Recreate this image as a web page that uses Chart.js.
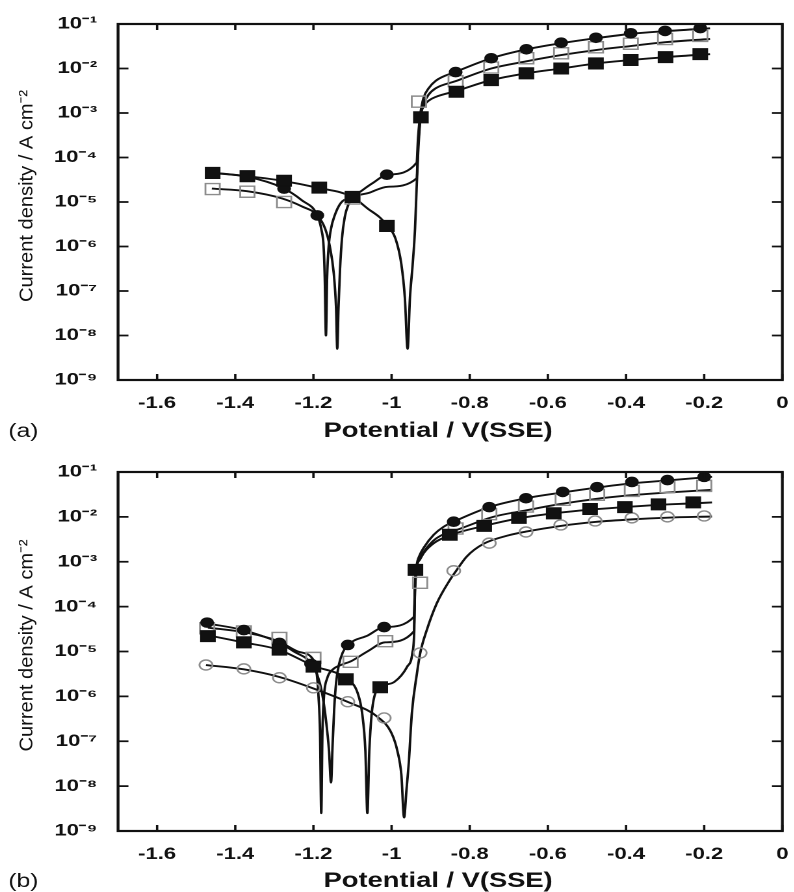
<!DOCTYPE html>
<html>
<head>
<meta charset="utf-8">
<script src="https://cdn.jsdelivr.net/npm/chart.js@4.4.0/dist/chart.umd.min.js"></script>
<style>
  body { margin: 0; background: #fff; width: 794px; height: 892px; overflow: hidden; position: relative; }
  /* the source figure is stretched sideways, so each panel is drawn narrow and widened */
  .panel { position: absolute; left: 0; width: 611px; height: 450px; transform: scaleX(1.3); transform-origin: 0 0; }
</style>
</head>
<body>
<div class="panel" style="top:0"><canvas id="chartA"></canvas></div>
<div class="panel" style="top:442px"><canvas id="chartB"></canvas></div>
<script>
// axis ticks
const xTickVals = [-1.6, -1.4, -1.2, -1.0, -0.8, -0.6, -0.4, -0.2, 0];
const xTickLabels = ['-1.6', '-1.4', '-1.2', '-1', '-0.8', '-0.6', '-0.4', '-0.2', '0'];
const yTickVals = [1e-9, 1e-8, 1e-7, 1e-6, 1e-5, 1e-4, 1e-3, 1e-2, 1e-1];
const yTickLabels = ['10⁻⁹', '10⁻⁸', '10⁻⁷', '10⁻⁶', '10⁻⁵', '10⁻⁴', '10⁻³', '10⁻²', '10⁻¹'];

// panel (a): fitted curves [V, A/cm2]
const aFillCircLine = [[-1.46, 4.5e-5], [-1.37, 3.7e-5], [-1.28, 2.1e-5], [-1.23, 1.1e-5], [-1.19, 5e-6], [-1.18, 2.5e-6],
  [-1.174, 1e-6], [-1.171, 2e-7], [-1.168, 1e-8], [-1.165, 2e-7], [-1.161, 1e-6], [-1.155, 2.5e-6], [-1.147, 4.6e-6],
  [-1.13, 9.5e-6], [-1.10, 1.3e-5], [-1.05, 2.6e-5], [-1.01, 4.1e-5], [-0.936, 7.6e-5], [-0.932, 3e-4], [-0.926, 1e-3],
  [-0.918, 2.2e-3], [-0.905, 3.6e-3], [-0.887, 5.3e-3], [-0.836, 8.4e-3], [-0.745, 1.7e-2], [-0.655, 2.7e-2],
  [-0.566, 3.7e-2], [-0.477, 4.8e-2], [-0.388, 6e-2], [-0.30, 6.9e-2], [-0.185, 8e-2]];
const aOpenSqLine = [[-1.46, 2e-5], [-1.37, 1.75e-5], [-1.28, 1.2e-5], [-1.23, 8e-6], [-1.19, 5e-6], [-1.17, 2.5e-6],
  [-1.158, 1e-6], [-1.148, 2.5e-7], [-1.142, 4e-8], [-1.139, 5e-9], [-1.136, 4e-8], [-1.132, 3e-7], [-1.127, 1.5e-6],
  [-1.12, 4.5e-6], [-1.11, 9e-6], [-1.10, 1.2e-5], [-1.058, 1.6e-5], [-1.01, 2.2e-5], [-0.936, 3.4e-5], [-0.932, 2e-4],
  [-0.926, 8e-4], [-0.918, 1.6e-3], [-0.905, 2.6e-3], [-0.887, 3.6e-3], [-0.836, 5.2e-3], [-0.745, 1e-2],
  [-0.655, 1.45e-2], [-0.566, 2e-2], [-0.477, 2.6e-2], [-0.388, 3.2e-2], [-0.30, 3.9e-2], [-0.185, 4.6e-2]];
const aFillSqLine = [[-1.46, 4.6e-5], [-1.37, 3.8e-5], [-1.28, 3e-5], [-1.19, 2.1e-5], [-1.10, 1.3e-5], [-1.06, 7e-6],
  [-1.03, 4.5e-6], [-1.01, 2.9e-6], [-0.99, 1.5e-6], [-0.975, 4e-7], [-0.966, 7e-8], [-0.959, 5e-9], [-0.953, 7e-8],
  [-0.946, 4e-7], [-0.94, 2.5e-6], [-0.936, 2e-5], [-0.932, 1.3e-4], [-0.926, 8e-4], [-0.918, 1.4e-3], [-0.905, 1.9e-3],
  [-0.887, 2.3e-3], [-0.836, 3.1e-3], [-0.745, 5.5e-3], [-0.655, 7.8e-3], [-0.566, 1e-2], [-0.477, 1.3e-2],
  [-0.388, 1.55e-2], [-0.30, 1.8e-2], [-0.185, 2.1e-2]];

// panel (a): measured points
const aFillCircPts = [[-1.458, 4.5e-5], [-1.369, 3.7e-5], [-1.275, 2e-5], [-1.19, 5e-6], [-1.10, 1.3e-5], [-1.012, 4.1e-5],
  [-0.836, 8.3e-3], [-0.745, 1.7e-2], [-0.655, 2.7e-2], [-0.566, 3.8e-2], [-0.477, 4.9e-2], [-0.388, 6.2e-2],
  [-0.30, 7e-2], [-0.21, 8.1e-2]];
const aOpenSqPts = [[-1.458, 1.95e-5], [-1.369, 1.7e-5], [-1.275, 1e-5], [-1.10, 1.2e-5], [-0.93, 1.8e-3], [-0.836, 5.2e-3],
  [-0.745, 1.05e-2], [-0.655, 1.7e-2], [-0.566, 2.2e-2], [-0.477, 3e-2], [-0.388, 3.6e-2], [-0.30, 4.6e-2], [-0.21, 5.4e-2]];
const aFillSqPts = [[-1.458, 4.5e-5], [-1.369, 3.8e-5], [-1.275, 3e-5], [-1.185, 2.1e-5], [-1.10, 1.3e-5], [-1.012, 2.9e-6],
  [-0.925, 8e-4], [-0.834, 3e-3], [-0.745, 5.5e-3], [-0.655, 7.8e-3], [-0.566, 1e-2], [-0.477, 1.3e-2],
  [-0.388, 1.55e-2], [-0.299, 1.8e-2], [-0.21, 2.1e-2]];

// panel (b): fitted curves
const bFillCircLine = [[-1.47, 4.2e-5], [-1.38, 3e-5], [-1.29, 1.6e-5], [-1.25, 1e-5], [-1.206, 5.5e-6], [-1.19, 3e-6],
  [-1.178, 1.2e-6], [-1.168, 3e-7], [-1.16, 6e-8], [-1.155, 1.2e-8], [-1.151, 8e-8], [-1.147, 5e-7], [-1.142, 2e-6],
  [-1.135, 5e-6], [-1.125, 9.5e-6], [-1.112, 1.4e-5], [-1.06, 2.3e-5], [-1.019, 3.5e-5], [-0.943, 5.9e-5], [-0.94, 3e-4],
  [-0.936, 8e-4], [-0.928, 1.4e-3], [-0.917, 2.1e-3], [-0.892, 4e-3], [-0.867, 6e-3], [-0.841, 7.8e-3], [-0.75, 1.65e-2],
  [-0.656, 2.6e-2], [-0.562, 3.5e-2], [-0.474, 4.5e-2], [-0.385, 5.6e-2], [-0.294, 6.5e-2], [-0.18, 7.8e-2]];
const bOpenSqLine = [[-1.47, 3.4e-5], [-1.38, 2.7e-5], [-1.29, 1.7e-5], [-1.24, 1e-5], [-1.20, 6.5e-6], [-1.192, 3.5e-6],
  [-1.187, 1e-6], [-1.183, 1.5e-7], [-1.18, 2.5e-9], [-1.177, 1.5e-7], [-1.173, 1e-6], [-1.165, 2.5e-6], [-1.15, 4e-6],
  [-1.13, 5e-6], [-1.105, 6e-6], [-1.062, 1e-5], [-1.016, 1.6e-5], [-0.943, 2.8e-5], [-0.94, 2.5e-4], [-0.936, 7e-4],
  [-0.928, 1.2e-3], [-0.917, 1.7e-3], [-0.892, 3e-3], [-0.867, 4.1e-3], [-0.834, 5.1e-3], [-0.74, 1e-2], [-0.655, 1.4e-2],
  [-0.573, 1.9e-2], [-0.48, 2.5e-2], [-0.395, 3e-2], [-0.29, 3.5e-2], [-0.18, 4e-2]];
const bFillSqLine = [[-1.47, 2.3e-5], [-1.38, 1.6e-5], [-1.29, 1.1e-5], [-1.20, 4.8e-6], [-1.117, 2.5e-6], [-1.087, 1.2e-6],
  [-1.075, 4e-7], [-1.067, 6e-8], [-1.062, 2.5e-9], [-1.057, 6e-8], [-1.051, 4e-7], [-1.044, 1e-6], [-1.029, 1.6e-6],
  [-0.993, 2.1e-6], [-0.96, 4.6e-6], [-0.947, 9e-6], [-0.942, 3e-5], [-0.94, 2.8e-4], [-0.937, 7e-4], [-0.928, 1.1e-3],
  [-0.917, 1.6e-3], [-0.892, 2.6e-3], [-0.851, 3.9e-3], [-0.763, 6.3e-3], [-0.674, 9.3e-3], [-0.585, 1.2e-2],
  [-0.492, 1.45e-2], [-0.403, 1.65e-2], [-0.317, 1.85e-2], [-0.228, 2e-2], [-0.18, 2.1e-2]];
const bOpenCircLine = [[-1.475, 5e-6], [-1.378, 4e-6], [-1.287, 2.7e-6], [-1.20, 1.5e-6], [-1.112, 7.5e-7], [-1.036, 3.5e-7],
  [-1.0, 1.5e-7], [-0.985, 6e-8], [-0.975, 1.8e-8], [-0.968, 2e-9], [-0.962, 8e-9], [-0.956, 3.3e-8], [-0.948, 4.3e-7],
  [-0.935, 3.3e-6], [-0.927, 9e-6], [-0.91, 3e-5], [-0.884, 1.2e-4], [-0.851, 3.9e-4], [-0.833, 6.6e-4], [-0.808, 1.3e-3],
  [-0.765, 2.5e-3], [-0.70, 3.9e-3], [-0.656, 4.7e-3], [-0.567, 6.3e-3], [-0.479, 7.7e-3], [-0.385, 8.8e-3],
  [-0.294, 9.6e-3], [-0.18, 1.02e-2]];

// panel (b): measured points
const bFillCircPts = [[-1.472, 4.4e-5], [-1.378, 3e-5], [-1.287, 1.55e-5], [-1.206, 5.3e-6], [-1.112, 1.4e-5], [-1.019, 3.5e-5],
  [-0.841, 7.8e-3], [-0.75, 1.65e-2], [-0.656, 2.6e-2], [-0.562, 3.6e-2], [-0.474, 4.6e-2], [-0.385, 6e-2],
  [-0.294, 6.6e-2], [-0.20, 7.8e-2]];
const bOpenSqPts = [[-1.472, 3.3e-5], [-1.378, 2.8e-5], [-1.287, 2e-5], [-1.20, 7.2e-6], [-1.105, 5.9e-6], [-1.016, 1.7e-5],
  [-0.927, 3.4e-4], [-0.836, 5.5e-3], [-0.75, 1.15e-2], [-0.656, 1.7e-2], [-0.562, 2.4e-2], [-0.474, 3.1e-2],
  [-0.385, 3.8e-2], [-0.294, 4.6e-2], [-0.20, 4.9e-2]];
const bFillSqPts = [[-1.47, 2.2e-5], [-1.378, 1.6e-5], [-1.287, 1.1e-5], [-1.20, 4.6e-6], [-1.117, 2.4e-6], [-1.029, 1.6e-6],
  [-0.939, 6.6e-4], [-0.851, 4e-3], [-0.763, 6.3e-3], [-0.674, 9.5e-3], [-0.585, 1.2e-2], [-0.492, 1.5e-2],
  [-0.403, 1.65e-2], [-0.317, 1.9e-2], [-0.228, 2.1e-2]];
const bOpenCircPts = [[-1.475, 5e-6], [-1.378, 4.1e-6], [-1.287, 2.6e-6], [-1.20, 1.55e-6], [-1.112, 7.6e-7], [-1.019, 3.3e-7],
  [-0.927, 9.3e-6], [-0.841, 6.3e-4], [-0.75, 2.6e-3], [-0.656, 4.6e-3], [-0.567, 6.6e-3], [-0.479, 8.1e-3],
  [-0.385, 9.5e-3], [-0.294, 1e-2], [-0.20, 1.05e-2]];

const FONT = "'Liberation Sans', Arial, Helvetica, sans-serif";
const INK = '#111';
const GREY = '#8c8c8c';

function xy(arr) {
  return arr.map(p => ({ x: p[0], y: p[1] }));
}

function curve(arr) {
  return { data: xy(arr), showLine: true, borderColor: INK, borderWidth: 1.9, pointRadius: 0,
    cubicInterpolationMode: 'monotone', order: 3 };
}

function marks(arr, kind) {
  const filled = kind === 'fillSq' || kind === 'fillCirc';
  const square = kind === 'fillSq' || kind === 'openSq';
  return {
    data: xy(arr), showLine: false,
    pointStyle: square ? 'rect' : 'circle',
    pointRadius: square ? 7.8 : (filled ? 4.8 : 5),
    pointBackgroundColor: filled ? INK : 'rgba(255,255,255,0)',
    pointBorderColor: filled ? INK : GREY,
    pointBorderWidth: filled ? 1 : 1.4,
    order: filled ? 0 : 1
  };
}

// frame, inward ticks, titles and panel letter
const framePlugin = {
  id: 'frame',
  afterDatasetsDraw(chart, args, opts) {
    const { ctx, chartArea: a, scales: { x, y } } = chart;
    ctx.save();
    ctx.strokeStyle = INK;
    ctx.lineWidth = 2.2;
    ctx.strokeRect(a.left, a.top, a.right - a.left, a.bottom - a.top);
    ctx.lineWidth = 1.8;
    ctx.beginPath();
    xTickVals.forEach(v => {
      const p = x.getPixelForValue(v);
      ctx.moveTo(p, a.bottom); ctx.lineTo(p, a.bottom - 6);
      ctx.moveTo(p, a.top); ctx.lineTo(p, a.top + 6);
    });
    yTickVals.forEach(v => {
      const p = y.getPixelForValue(v);
      ctx.moveTo(a.left, p); ctx.lineTo(a.left + 8, p);
      ctx.moveTo(a.right, p); ctx.lineTo(a.right - 8, p);
    });
    ctx.stroke();

    ctx.fillStyle = INK;
    ctx.textBaseline = 'middle';
    ctx.textAlign = 'center';
    ctx.font = 'bold 21px ' + FONT;
    ctx.fillText('Potential / V(SSE)', 337, a.bottom + opts.titleGap);
    ctx.font = '19px ' + FONT;
    ctx.fillText(opts.letter, 18, a.bottom + opts.titleGap + 1);

    // y title, stretched along its length like the source
    const label = 'Current density / A cm⁻²';
    ctx.font = '15px ' + FONT;
    const w = ctx.measureText(label).width;
    ctx.translate(21, (a.top + a.bottom) / 2 - 6);
    ctx.rotate(-Math.PI / 2);
    ctx.scale(212 / w, 1);
    ctx.fillText(label, 0, 0);
    ctx.restore();
  }
};

function makeChart(id, datasets, letter, plotTop, plotBottom, titleGap) {
  const H = 450;
  return new Chart(document.getElementById(id), {
    type: 'scatter',
    data: { datasets: datasets },
    options: {
      responsive: true,
      maintainAspectRatio: false,
      devicePixelRatio: 2,
      animation: false,
      events: [],
      layout: { padding: { top: plotTop, left: 0, right: 4.8, bottom: 0 } },
      plugins: {
        legend: { display: false },
        tooltip: { enabled: false },
        frame: { letter: letter, titleGap: titleGap }
      },
      scales: {
        x: {
          type: 'linear', min: -1.7, max: 0,
          grid: { display: false, drawTicks: false },
          border: { display: false },
          afterBuildTicks: s => { s.ticks = xTickVals.map(v => ({ value: v })); },
          afterFit: s => { s.height = H - plotBottom; s.paddingLeft = 0; s.paddingRight = 0; },
          ticks: {
            autoSkip: false, maxRotation: 0, padding: 13, color: INK,
            font: { family: FONT, size: 17, weight: 'bold' },
            callback: (v, i) => xTickLabels[i]
          }
        },
        y: {
          type: 'logarithmic', min: 1e-9, max: 1e-1,
          grid: { display: false, drawTicks: false },
          border: { display: false },
          afterBuildTicks: s => { s.ticks = yTickVals.map(v => ({ value: v })); },
          afterFit: s => { s.width = 90.8; s.paddingTop = 0; s.paddingBottom = 0; },
          ticks: {
            padding: 16, color: INK,
            font: { family: FONT, size: 17, weight: 'bold' },
            callback: (v, i) => yTickLabels[i]
          }
        }
      }
    },
    plugins: [framePlugin]
  });
}

makeChart('chartA', [
  marks(aFillSqPts, 'fillSq'), marks(aFillCircPts, 'fillCirc'), marks(aOpenSqPts, 'openSq'),
  curve(aFillCircLine), curve(aOpenSqLine), curve(aFillSqLine)
], '(a)', 24, 380, 51);

makeChart('chartB', [
  marks(bFillSqPts, 'fillSq'), marks(bFillCircPts, 'fillCirc'), marks(bOpenSqPts, 'openSq'), marks(bOpenCircPts, 'openCirc'),
  curve(bFillCircLine), curve(bOpenSqLine), curve(bFillSqLine), curve(bOpenCircLine)
], '(b)', 30, 389, 50);
</script>
</body>
</html>
